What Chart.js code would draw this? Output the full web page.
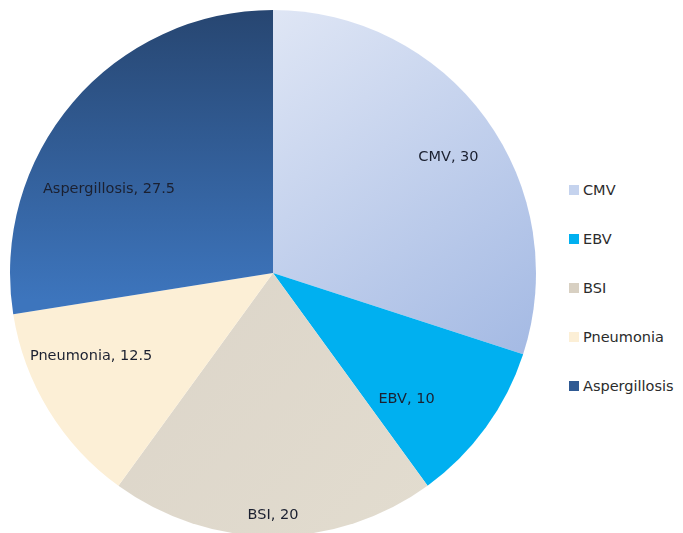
<!DOCTYPE html>
<html>
<head>
  <meta charset="UTF-8">
  <title>Infections</title>
  <script src="https://cdn.jsdelivr.net/npm/chart.js"></script>
  <style>
    html, body {
      margin: 0;
      padding: 0;
      background: #fff;
      overflow: hidden;
    }
    .wrap {
      position: relative;
      width: 683px;
      height: 533px;
      overflow: hidden;
    }
    #pieBox {
      position: absolute;
      left: 0;
      top: 0;
      width: 546px;
      height: 546px;
    }
    #legend {
      position: absolute;
      left: 569px;
      top: 180px;
      font-family: 'DejaVu Sans', sans-serif;
      font-size: 14.5px;
      line-height: 20px;
      color: #2b2b2b;
    }
    .item {
      height: 49px;
      display: flex;
      align-items: flex-start;
    }
    .sw {
      width: 10px;
      height: 10px;
      margin-top: 5px;
      margin-right: 4px;
    }
  </style>
</head>
<body>
  <div class="wrap">
    <div id="pieBox"><canvas id="pie"></canvas></div>
    <div id="legend"></div>
  </div>

  <script>
    // data
    const labels = ['CMV', 'EBV', 'BSI', 'Pneumonia', 'Aspergillosis'];
    const values = [30, 10, 20, 12.5, 27.5];
    const swatchColors = ['#c5d3ee', '#00b0f0', '#d8d0c2', '#fcefd6', '#2f5a93'];

    // where each label sits inside its slice (fraction of radius, angle shift in degrees)
    const labelRadius = [0.80, 0.70, 0.92, 0.76, 0.70];
    const labelShift = [2.5, 7.5, 0, 7, -13.5];

    const ctx = document.getElementById('pie').getContext('2d');

    function sliceFill(context) {
      const i = context.dataIndex;
      const chart = context.chart;
      const area = chart.chartArea;
      if (!area) return swatchColors[i];
      const c = chart.ctx;
      if (i === 0) {
        const g = c.createLinearGradient(area.left + 263, area.top, area.right, area.top + 360);
        g.addColorStop(0, '#dfe6f5');
        g.addColorStop(1, '#a2b8e3');
        return g;
      }
      if (i === 4) {
        const g = c.createLinearGradient(0, area.top, 0, area.top + 290);
        g.addColorStop(0, '#274671');
        g.addColorStop(1, '#3d75bd');
        return g;
      }
      if (i === 2) {
        const g = c.createLinearGradient(area.left + 120, area.top + 280, area.left + 400, area.bottom);
        g.addColorStop(0, '#dcd5c9');
        g.addColorStop(1, '#e2dccf');
        return g;
      }
      return swatchColors[i];
    }

    const sliceLabels = {
      id: 'sliceLabels',
      afterDatasetsDraw(chart) {
        const c = chart.ctx;
        const arcs = chart.getDatasetMeta(0).data;
        c.save();
        c.font = '14.5px "DejaVu Sans", sans-serif';
        c.fillStyle = '#1b2030';
        c.textAlign = 'center';
        c.textBaseline = 'middle';
        arcs.forEach((arc, i) => {
          const p = arc.getProps(['x', 'y', 'startAngle', 'endAngle', 'outerRadius'], true);
          const mid = (p.startAngle + p.endAngle) / 2 + labelShift[i] * Math.PI / 180;
          const r = p.outerRadius * labelRadius[i];
          c.fillText(labels[i] + ', ' + values[i], p.x + Math.cos(mid) * r, p.y + Math.sin(mid) * r);
        });
        c.restore();
      }
    };

    new Chart(ctx, {
      type: 'pie',
      data: {
        labels: labels,
        datasets: [{
          data: values,
          backgroundColor: sliceFill,
          borderWidth: 0
        }]
      },
      options: {
        responsive: true,
        maintainAspectRatio: false,
        animation: false,
        layout: { padding: 10 },
        plugins: {
          legend: { display: false },
          tooltip: { enabled: false }
        }
      },
      plugins: [sliceLabels]
    });

    // legend
    const legend = document.getElementById('legend');
    labels.forEach((name, i) => {
      const row = document.createElement('div');
      row.className = 'item';
      row.innerHTML = '<div class="sw" style="background:' + swatchColors[i] + '"></div><span>' + name + '</span>';
      legend.appendChild(row);
    });
  </script>
</body>
</html>
